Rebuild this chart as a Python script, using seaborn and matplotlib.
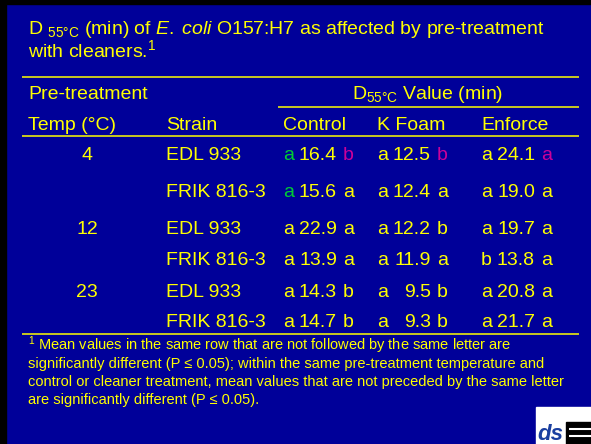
#!/usr/bin/env python3
# -*- coding: utf-8 -*-
"""
D55 value table slide (E. coli O157:H7, cleaner pre-treatment)
"""

import matplotlib
matplotlib.use('Agg')
import matplotlib.pyplot as plt
from matplotlib.patches import Rectangle
import seaborn as sns

# ============================================================================
# data
# ============================================================================
temps = ['4', '', '12', '', '23', '']
strains = ['EDL 933', 'FRIK 816-3', 'EDL 933', 'FRIK 816-3', 'EDL 933', 'FRIK 816-3']
treatments = ['Control', 'K Foam', 'Enforce']

control_pre = ['a', 'a', 'a', 'a', 'a', 'a']
control_val = [16.4, 15.6, 22.9, 13.9, 14.3, 14.7]
control_post = ['b', 'a', 'a', 'a', 'b', 'b']

kfoam_pre = ['a', 'a', 'a', 'a', 'a', 'a']
kfoam_val = [12.5, 12.4, 12.2, 11.9, 9.5, 9.3]
kfoam_post = ['b', 'a', 'b', 'a', 'b', 'b']

enforce_pre = ['a', 'a', 'a', 'b', 'a', 'a']
enforce_val = [24.1, 19.0, 19.7, 13.8, 20.8, 21.7]
enforce_post = ['a', 'a', 'a', 'a', 'a', 'a']

footnote = ['$^1$ Mean values in the same row that are not followed by the same letter are',
            'significantly different (P \u2264 0.05); within the same pre-treatment temperature and',
            'control or cleaner treatment, mean values that are not preceded by the same letter',
            'are significantly different (P \u2264 0.05).']

# ============================================================================
# style
# ============================================================================
BG = '#000099'
YELLOW = '#FFFF00'
GREEN = '#00CC33'
MAGENTA = '#CC0099'

# highlighted letters: (row, treatment, side) -> colour
HIGHLIGHT = {
    (0, 0, 'pre'): GREEN, (1, 0, 'pre'): GREEN,
    (0, 0, 'post'): MAGENTA, (0, 1, 'post'): MAGENTA, (0, 2, 'post'): MAGENTA,
}

sns.set_theme(style='white')
plt.rcParams['font.family'] = ['Liberation Sans', 'DejaVu Sans']
plt.rcParams['mathtext.fontset'] = 'custom'
plt.rcParams['mathtext.rm'] = 'Liberation Sans'
plt.rcParams['mathtext.it'] = 'Liberation Sans:italic'
plt.rcParams['mathtext.bf'] = 'Liberation Sans:bold'

W, H = 591, 444
FS = 14
FS_TITLE = 14
FS_NOTE = 10.5

ROW_Y = [159.5, 196.5, 233.5, 264.5, 296.5, 326.5]
COL_X = [283, 377, 481]
TEMP_X, STRAIN_X = 87, 166

fig = plt.figure(figsize=(W / 100, H / 100), dpi=100)
ax = fig.add_axes([0, 0, 1, 1])
ax.set_xlim(0, W)
ax.set_ylim(H, 0)
ax.axis('off')

# slide background and frame
ax.add_patch(Rectangle((0, 0), W, H, color=BG, zorder=0))
ax.add_patch(Rectangle((0, 0), W, 4, color='black', zorder=1))
ax.add_patch(Rectangle((0, 0), 6, H, color='black', zorder=1))

def txt(x, y, s, size=FS, ha='left', color=YELLOW, **kw):
    ax.text(x, y, s, fontsize=size, ha=ha, va='baseline', color=color, **kw)

# title
txt(28, 34.5, r'D $_{\mathrm{55°C}}$ (min) of $\mathit{E.\;coli}$ O157:H7 as affected by pre-treatment',
    size=FS_TITLE)
txt(28, 57.5, r'with cleaners.$^{\mathrm{1}}$', size=FS_TITLE)

# rules
ax.hlines([77.5, 136, 334], 22, 579, color=YELLOW, lw=1.1)
ax.hlines(107, 278, 579, color=YELLOW, lw=1.1)

# header
txt(28, 99, 'Pre-treatment')
txt(428, 99, r'D$_{\mathrm{55°C}}$ Value (min)', ha='center')
txt(28, 129.5, 'Temp (\u00b0C)')
txt(STRAIN_X, 129.5, 'Strain')
for x, name in zip(COL_X, treatments):
    txt(x, 129.5, name)

# body
cols = [(control_pre, control_val, control_post),
        (kfoam_pre, kfoam_val, kfoam_post),
        (enforce_pre, enforce_val, enforce_post)]
for i, y in enumerate(ROW_Y):
    txt(TEMP_X, y, temps[i], ha='center')
    txt(STRAIN_X, y, strains[i])
    for j, (pre, vals, post) in enumerate(cols):
        x = COL_X[j]
        txt(x, y, pre[i], color=HIGHLIGHT.get((i, j, 'pre'), YELLOW))
        txt(x + 54, y, f'{vals[i]:.1f}', ha='right')
        txt(x + 60, y, post[i], color=HIGHLIGHT.get((i, j, 'post'), YELLOW))

# footnote
for k, line in enumerate(footnote):
    txt(28, 350 + 18 * k, line, size=FS_NOTE)

# logo (bottom right)
ax.add_patch(Rectangle((536, 407), W - 536, H - 407, color='white', zorder=2))
ax.text(537, 445, 'ds', fontsize=16, fontweight='bold', fontstyle='italic',
        color='#1A3FA0', ha='left', va='bottom', zorder=3)
ax.add_patch(Rectangle((566, 422), 25, 22, color='black', zorder=3))
ax.hlines([429, 436], 569, 591, color='white', lw=1.5, zorder=4)

fig.savefig('out.png', dpi=100, facecolor=BG)
plt.close(fig)
